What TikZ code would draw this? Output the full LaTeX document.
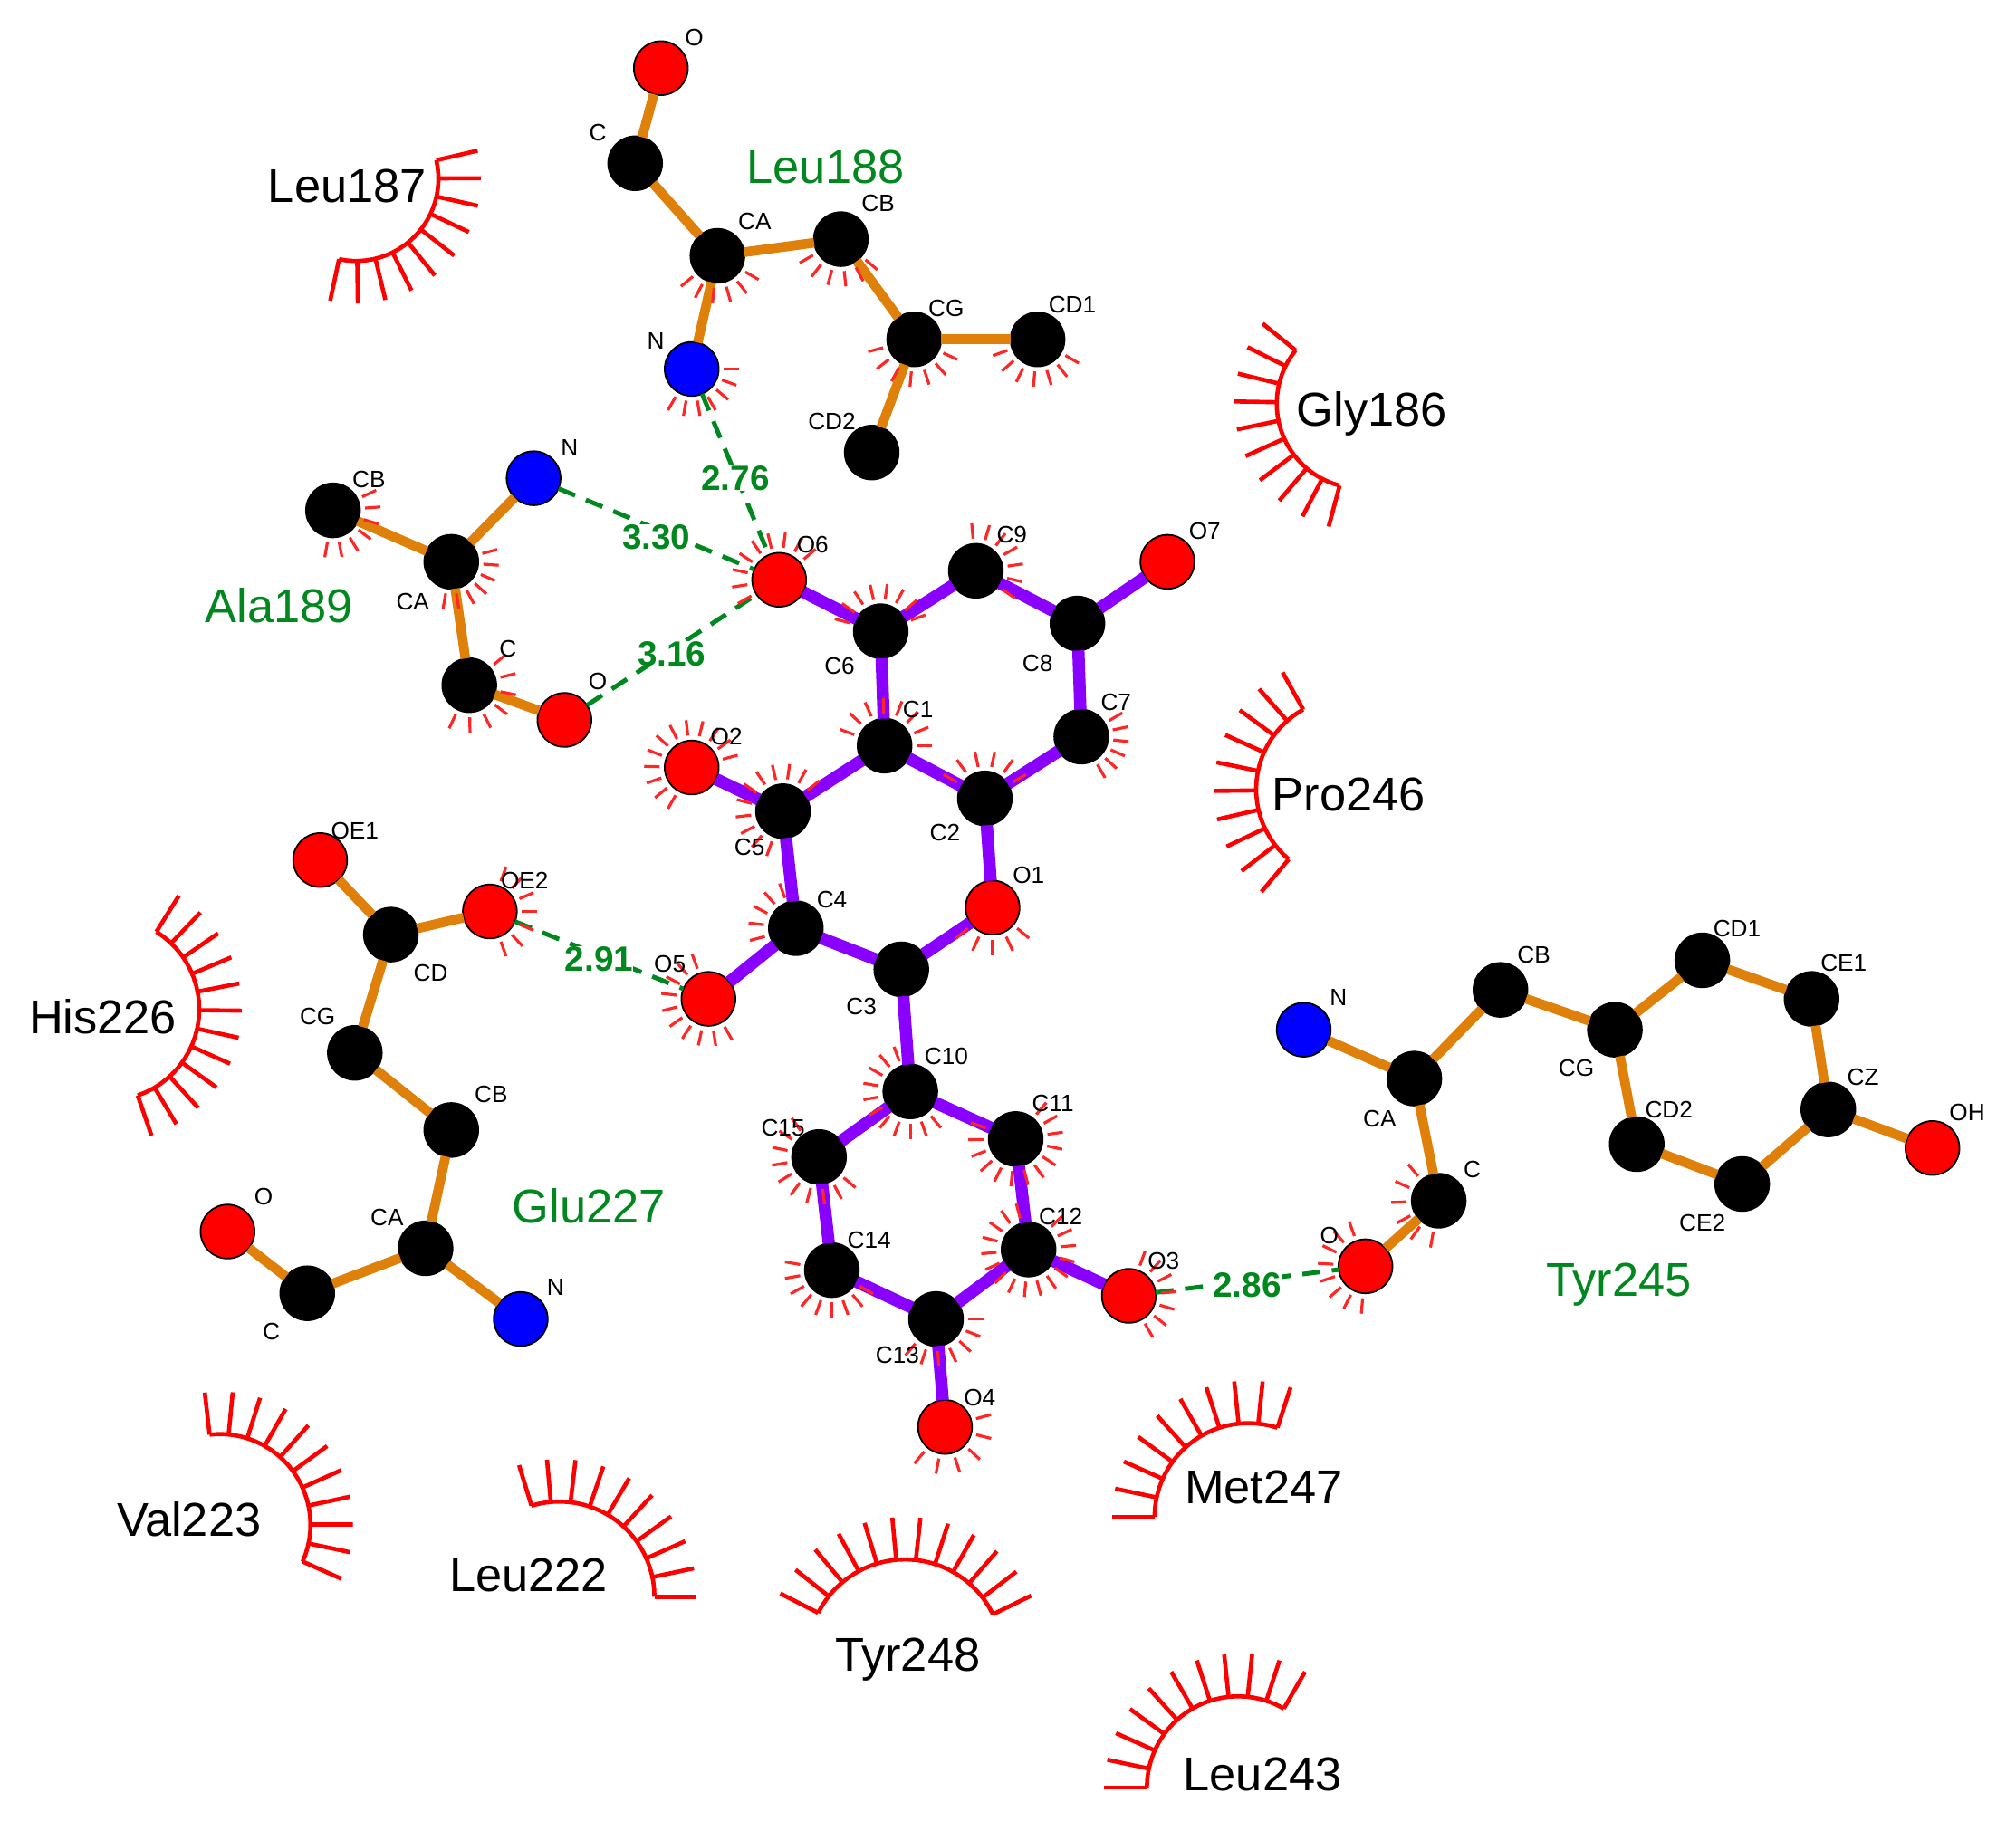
\documentclass[tikz,border=0pt]{standalone}
\usepackage{fontspec}
\setmainfont{Liberation Sans}
\usepackage{tikz}
\definecolor{ligbond}{RGB}{138,0,255}
\definecolor{resbond}{RGB}{222,128,10}
\definecolor{hgreen}{RGB}{0,135,30}
\tikzset{atom/.style={circle,draw=black,line width=0.25mm,minimum size=8.4mm,inner sep=0pt,outer sep=0pt},
         carbon/.style={atom,fill=black},
         oxygen/.style={atom,fill=red},
         nitrogen/.style={atom,fill=blue},
         atomlabel/.style={inner sep=0pt,text=black,font=\fontsize{10.5}{12}\selectfont},
         reslabel/.style={inner sep=0pt,text=black,font=\fontsize{21}{25}\selectfont},
         hbres/.style={inner sep=0pt,text=hgreen,font=\fontsize{21}{25}\selectfont},
         ligand/.style={ligbond,line width=1.9mm},
         residue/.style={resbond,line width=1.5mm},
         hbond/.style={hgreen,line width=0.7mm,dash pattern=on 2.8mm off 1.8mm},
         hdist/.style={fill=white,inner sep=0pt,yshift=-0.6mm,text=hgreen,font=\bfseries\fontsize{15.5}{18}\selectfont},
         atomtick/.style={red!85!white,line width=0.45mm},
         hydro/.style={red,line width=0.65mm}}
% short ticks round an atom: name, first angle, last angle, count
\newcommand{\atomticks}[4]{%
  \foreach \i in {1,...,#4}{%
    \pgfmathsetmacro\a{#2+(#3-(#2))*(\i-1)/(#4-1)}
    \draw[atomtick] (#1)+(\a:25) -- +(\a:37);
  }}
% spoked arc: centre x, centre y, radius, first angle, last angle, count
\newcommand{\hydroarc}[6]{%
  \draw[hydro] plot[domain=#4:#5,samples=25] ({#1+#3*cos(\x)},{#2+#3*sin(\x)});
  \foreach \i in {1,...,#6}{%
    \pgfmathsetmacro\a{#4+(#5-(#4))*(\i-1)/(#6-1)}
    \draw[hydro] ($(#1,#2)+(\a:#3)$) -- ($(#1,#2)+(\a:#3+33)$);
  }}
\usetikzlibrary{calc}
\begin{document}
\begin{tikzpicture}[x=0.2mm,y=-0.2mm]
    \useasboundingbox (0,0) rectangle (1568,1423.6);
    % Ligand atoms
    \node (oS) at (606,451) [oxygen]{};
    \node (cS) at (685,491) [carbon]{};
    \node (cN) at (759,444) [carbon]{};
    \node (cE) at (838,485) [carbon]{};
    \node (oV) at (908,437) [oxygen]{};
    \node (cV) at (841,573) [carbon]{};
    \node (cA) at (688,580) [carbon]{};
    \node (cB) at (766,621) [carbon]{};
    \node (cF) at (609,631) [carbon]{};
    \node (oB) at (538,597) [oxygen]{};
    \node (oA) at (772,706) [oxygen]{};
    \node (cD) at (619,722) [carbon]{};
    \node (cC) at (701,754) [carbon]{};
    \node (oF) at (551,777) [oxygen]{};
    \node (cJ) at (708,849) [carbon]{};
    \node (cK) at (790,886) [carbon]{};
    \node (cL) at (800,972) [carbon]{};
    \node (cM) at (728,1026) [carbon]{};
    \node (cP) at (647,988) [carbon]{};
    \node (cQ) at (637,900) [carbon]{};
    \node (oC) at (878,1008) [oxygen]{};
    \node (oD) at (735,1110) [oxygen]{};
    % Leu188
    \node (leuO) at (514,53) [oxygen]{};
    \node (leuC) at (494,127) [carbon]{};
    \node (leuCA) at (558,199) [carbon]{};
    \node (leuCB) at (654,186) [carbon]{};
    \node (leuCG) at (711,264) [carbon]{};
    \node (leuCDa) at (807,264) [carbon]{};
    \node (leuCDb) at (678,352) [carbon]{};
    \node (leuN) at (538,287) [nitrogen]{};
    % Ala189
    \node (alaCB) at (259,397) [carbon]{};
    \node (alaN) at (415,372) [nitrogen]{};
    \node (alaCA) at (351,437) [carbon]{};
    \node (alaC) at (365,533) [carbon]{};
    \node (alaO) at (439,560) [oxygen]{};
    % Glu227
    \node (gluOEa) at (249,669) [oxygen]{};
    \node (gluCD) at (304,727) [carbon]{};
    \node (gluOEb) at (381,709) [oxygen]{};
    \node (gluCG) at (276,819) [carbon]{};
    \node (gluCB) at (351,879) [carbon]{};
    \node (gluCA) at (331,971) [carbon]{};
    \node (gluC) at (239,1006) [carbon]{};
    \node (gluO) at (177,958) [oxygen]{};
    \node (gluN) at (405,1026) [nitrogen]{};
    % Tyr245
    \node (tyrN) at (1014,801) [nitrogen]{};
    \node (tyrCA) at (1100,839) [carbon]{};
    \node (tyrCB) at (1167,770) [carbon]{};
    \node (tyrCG) at (1256,801) [carbon]{};
    \node (tyrCDa) at (1324,747) [carbon]{};
    \node (tyrCEa) at (1409,777) [carbon]{};
    \node (tyrCZ) at (1422,863) [carbon]{};
    \node (tyrCEb) at (1355,921) [carbon]{};
    \node (tyrCDb) at (1273,890) [carbon]{};
    \node (tyrOH) at (1503,893) [oxygen]{};
    \node (tyrC) at (1119,934) [carbon]{};
    \node (tyrO) at (1062,985) [oxygen]{};
    % Bonds
    \draw[ligand] (oS) -- (cS);
    \draw[ligand] (cS) -- (cN);
    \draw[ligand] (cN) -- (cE);
    \draw[ligand] (cE) -- (oV);
    \draw[ligand] (cE) -- (cV);
    \draw[ligand] (cV) -- (cB);
    \draw[ligand] (cS) -- (cA);
    \draw[ligand] (cA) -- (cB);
    \draw[ligand] (cA) -- (cF);
    \draw[ligand] (cF) -- (oB);
    \draw[ligand] (cF) -- (cD);
    \draw[ligand] (cB) -- (oA);
    \draw[ligand] (oA) -- (cC);
    \draw[ligand] (cC) -- (cD);
    \draw[ligand] (cD) -- (oF);
    \draw[ligand] (cC) -- (cJ);
    \draw[ligand] (cJ) -- (cK);
    \draw[ligand] (cK) -- (cL);
    \draw[ligand] (cL) -- (cM);
    \draw[ligand] (cM) -- (cP);
    \draw[ligand] (cP) -- (cQ);
    \draw[ligand] (cQ) -- (cJ);
    \draw[ligand] (cL) -- (oC);
    \draw[ligand] (cM) -- (oD);
    \draw[residue] (leuO) -- (leuC);
    \draw[residue] (leuC) -- (leuCA);
    \draw[residue] (leuCA) -- (leuCB);
    \draw[residue] (leuCB) -- (leuCG);
    \draw[residue] (leuCG) -- (leuCDa);
    \draw[residue] (leuCG) -- (leuCDb);
    \draw[residue] (leuCA) -- (leuN);
    \draw[residue] (alaCB) -- (alaCA);
    \draw[residue] (alaN) -- (alaCA);
    \draw[residue] (alaCA) -- (alaC);
    \draw[residue] (alaC) -- (alaO);
    \draw[residue] (gluOEa) -- (gluCD);
    \draw[residue] (gluOEb) -- (gluCD);
    \draw[residue] (gluCD) -- (gluCG);
    \draw[residue] (gluCG) -- (gluCB);
    \draw[residue] (gluCB) -- (gluCA);
    \draw[residue] (gluCA) -- (gluC);
    \draw[residue] (gluC) -- (gluO);
    \draw[residue] (gluCA) -- (gluN);
    \draw[residue] (tyrN) -- (tyrCA);
    \draw[residue] (tyrCA) -- (tyrCB);
    \draw[residue] (tyrCB) -- (tyrCG);
    \draw[residue] (tyrCG) -- (tyrCDa);
    \draw[residue] (tyrCDa) -- (tyrCEa);
    \draw[residue] (tyrCEa) -- (tyrCZ);
    \draw[residue] (tyrCZ) -- (tyrCEb);
    \draw[residue] (tyrCEb) -- (tyrCDb);
    \draw[residue] (tyrCDb) -- (tyrCG);
    \draw[residue] (tyrCZ) -- (tyrOH);
    \draw[residue] (tyrCA) -- (tyrC);
    \draw[residue] (tyrC) -- (tyrO);
    % Hydrogen bonds
    \draw[hbond] (leuN) -- node (dLeu) [hdist,solid]{2.76} (oS);
    \draw[hbond] (alaN) -- node (dAlaN) [hdist,solid,yshift=-0.6mm]{3.30} (oS);
    \draw[hbond] (alaO) -- node (dAlaO) [hdist,solid]{3.16} (oS);
    \draw[hbond] (gluOEb) -- node (dGlu) [hdist,solid]{2.91} (oF);
    \draw[hbond] (oC) -- node (dTyr) [hdist,solid]{2.86} (tyrO);
    % Ticks round the atoms
    \atomticks{leuCA}{30}{140}{6}
    \atomticks{leuCB}{40}{150}{6}
    \atomticks{leuCG}{25}{165}{7}
    \atomticks{leuCDa}{30}{160}{7}
    \atomticks{leuN}{0}{120}{7}
    \atomticks{oS}{150}{320}{9}
    \atomticks{cS}{195}{340}{8}
    \atomticks{cN}{-95}{35}{7}
    \atomticks{alaCB}{-25}{100}{7}
    \atomticks{alaCA}{-15}{100}{7}
    \atomticks{alaC}{-40}{115}{7}
    \atomticks{cA}{200}{360}{8}
    \atomticks{oB}{120}{345}{12}
    \atomticks{cF}{110}{320}{11}
    \atomticks{cB}{210}{330}{6}
    \atomticks{oA}{40}{140}{5}
    \atomticks{cD}{165}{250}{5}
    \atomticks{oF}{60}{250}{10}
    \atomticks{gluOEb}{-70}{70}{7}
    \atomticks{cJ}{50}{250}{11}
    \atomticks{cK}{-50}{200}{13}
    \atomticks{cQ}{40}{235}{10}
    \atomticks{cP}{30}{190}{9}
    \atomticks{cM}{0}{130}{7}
    \atomticks{cL}{-45}{255}{16}
    \atomticks{oC}{-70}{60}{7}
    \atomticks{oD}{-15}{130}{6}
    \atomticks{tyrO}{95}{250}{8}
    \atomticks{tyrC}{100}{230}{6}
    \atomticks{cV}{-30}{60}{6}
    % Spoked arcs
    \hydroarc{277}{139}{64}{-13}{102}{10}
    \hydroarc{1059}{314}{66}{105}{219}{10}
    \hydroarc{1048}{614}{71}{130}{241}{10}
    \hydroarc{84}{785}{71}{-58}{71}{12}
    \hydroarc{171}{1186}{70.5}{-96.5}{24}{11}
    \hydroarc{435}{1242}{74}{-107}{0}{10}
    \hydroarc{704}{1289}{76}{207}{334}{12}
    \hydroarc{971}{1180}{73}{180}{288}{10}
    \hydroarc{963}{1390.5}{71}{180}{300}{11}
    % Residue names
    \node (tLeuA) at (270,145) [reslabel]{Leu187};
    \node (tLeuB) at (642,130) [hbres]{Leu188};
    \node (tGly) at (1067,322) [reslabel]{Gly186};
    \node (tAla) at (217,471) [hbres]{Ala189};
    \node (tPro) at (1049,618) [reslabel]{Pro246};
    \node (tHis) at (80,791) [reslabel]{His226};
    \node (tGlu) at (458,938) [hbres]{Glu227};
    \node (tTyrA) at (1259,999) [hbres]{Tyr245};
    \node (tMet) at (983,1157) [reslabel]{Met247};
    \node (tVal) at (147,1182) [reslabel]{Val223};
    \node (tLeuC) at (411,1225) [reslabel]{Leu222};
    \node (tTyrB) at (706,1291) [reslabel]{Tyr248};
    \node (tLeuD) at (982,1380) [reslabel]{Leu243};
    % Atom names
    \node (aO) at (540,29) [atomlabel]{O};
    \node (aC) at (465,103) [atomlabel]{C};
    \node (aCA) at (587,172) [atomlabel]{CA};
    \node (aCB) at (683,158) [atomlabel]{CB};
    \node (aCG) at (736,240) [atomlabel]{CG};
    \node (aCDa) at (834,237) [atomlabel]{CD1};
    \node (aCDb) at (647,328) [atomlabel]{CD2};
    \node (aN) at (510,265) [atomlabel]{N};
    \node (bN) at (443,348) [atomlabel]{N};
    \node (bCB) at (287,373) [atomlabel]{CB};
    \node (bCA) at (321,468) [atomlabel]{CA};
    \node (bC) at (395,505) [atomlabel]{C};
    \node (bO) at (465,530) [atomlabel]{O};
    \node (lOS) at (632,424) [atomlabel]{O6};
    \node (lCN) at (787,416) [atomlabel]{C9};
    \node (lOV) at (937,413) [atomlabel]{O7};
    \node (lCS) at (653,518) [atomlabel]{C6};
    \node (lCE) at (807,516) [atomlabel]{C8};
    \node (lCV) at (868,546) [atomlabel]{C7};
    \node (lCA) at (714,552) [atomlabel]{C1};
    \node (lOB) at (565,573) [atomlabel]{O2};
    \node (lCF) at (583,659) [atomlabel]{C5};
    \node (lCB) at (735,648) [atomlabel]{C2};
    \node (lOA) at (800,681) [atomlabel]{O1};
    \node (lCD) at (647,700) [atomlabel]{C4};
    \node (lOF) at (521,750) [atomlabel]{O5};
    \node (lCC) at (670,783) [atomlabel]{C3};
    \node (lCJ) at (736,822) [atomlabel]{C10};
    \node (lCK) at (819,858) [atomlabel]{C11};
    \node (lCQ) at (609,877) [atomlabel]{C15};
    \node (lCL) at (825,946) [atomlabel]{C12};
    \node (lCP) at (676,965) [atomlabel]{C14};
    \node (lCM) at (698,1054) [atomlabel]{C13};
    \node (lOC) at (905,981) [atomlabel]{O3};
    \node (lOD) at (762,1087) [atomlabel]{O4};
    \node (cOEa) at (276,646) [atomlabel]{OE1};
    \node (cOEb) at (408,685) [atomlabel]{OE2};
    \node (cCD) at (335,757) [atomlabel]{CD};
    \node (cCG) at (247,791) [atomlabel]{CG};
    \node (cCB) at (382,851) [atomlabel]{CB};
    \node (cCA) at (301,947) [atomlabel]{CA};
    \node (cO) at (205,931) [atomlabel]{O};
    \node (cC) at (211,1036) [atomlabel]{C};
    \node (cN1) at (432,1001) [atomlabel]{N};
    \node (dN) at (1041,776) [atomlabel]{N};
    \node (dCB) at (1193,743) [atomlabel]{CB};
    \node (dCDa) at (1351,722) [atomlabel]{CD1};
    \node (dCEa) at (1434,749) [atomlabel]{CE1};
    \node (dCZ) at (1449,838) [atomlabel]{CZ};
    \node (dOH) at (1530,865) [atomlabel]{OH};
    \node (dCG) at (1226,831) [atomlabel]{CG};
    \node (dCDb) at (1298,863) [atomlabel]{CD2};
    \node (dCEb) at (1324,951) [atomlabel]{CE2};
    \node (dCA) at (1073,870) [atomlabel]{CA};
    \node (dC) at (1145,910) [atomlabel]{C};
    \node (dO) at (1034,961) [atomlabel]{O};
\end{tikzpicture}
\end{document}
